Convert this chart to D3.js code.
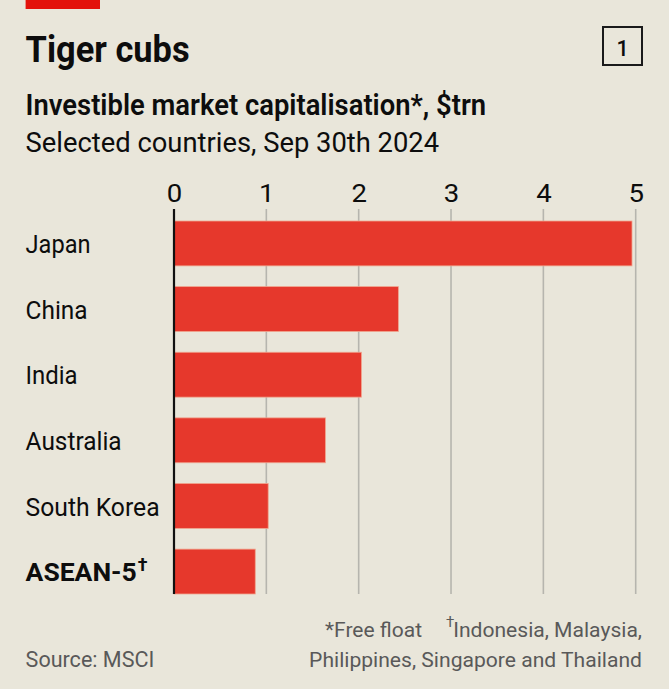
<!DOCTYPE html>
<html>
<head>
<meta charset="utf-8">
<script src="https://cdn.jsdelivr.net/npm/d3@7"></script>
<style>
  html, body { margin: 0; padding: 0; background: #e9e6da; }
  svg { display: block; }
  text { font-family: Roboto, "Liberation Sans", sans-serif; }
</style>
</head>
<body>
<svg id="chart" width="669" height="689"></svg>
<script>
// ---- Data ----
const categories = ["Japan", "China", "India", "Australia", "South Korea", "ASEAN-5"];
const values = [4.96, 2.43, 2.03, 1.64, 1.02, 0.88];
const tickValues = [0, 1, 2, 3, 4, 5];
const title = "Tiger cubs";
const subtitle = "Investible market capitalisation*, $trn";
const subtitle2 = "Selected countries, Sep 30th 2024";
const source = "Source: MSCI";
const note1 = "*Free float";
const note2 = "Indonesia, Malaysia,";
const note3 = "Philippines, Singapore and Thailand";
const chartNumber = "1";

// ---- Layout ----
const W = 669, H = 689;
const svg = d3.select("#chart");
svg.append("rect").attr("width", W).attr("height", H).attr("fill", "#e9e6da");

function fit(sel, w) {
  const n = sel.node();
  const cur = n.getComputedTextLength();
  if (Math.abs(cur - w) > 0.5) {
    sel.attr("textLength", w).attr("lengthAdjust", "spacingAndGlyphs");
  }
  return sel;
}
function fitSize(sel, w) {
  const fs = +sel.attr("font-size");
  const cur = sel.node().getComputedTextLength();
  if (cur > w) sel.attr("font-size", fs * w / cur);
  return sel;
}

// red tag
svg.append("rect").attr("x", 25.6).attr("y", 0).attr("width", 74.4).attr("height", 9).attr("fill", "#e3120b");

// title
fit(svg.append("text").attr("x", 25.6).attr("y", 62).attr("font-size", 36.5).attr("font-weight", 700)
  .attr("fill", "#0d0d0d").text(title), 164);

// number box
svg.append("rect").attr("x", 603).attr("y", 27).attr("width", 39).attr("height", 38)
  .attr("fill", "none").attr("stroke", "#1a1a1a").attr("stroke-width", 2);
svg.append("text").attr("x", 622.5).attr("y", 56).attr("text-anchor", "middle")
  .attr("font-size", 21.5).attr("font-weight", 500).attr("fill", "#0d0d0d").text(chartNumber);

// subtitles
fit(svg.append("text").attr("x", 25.6).attr("y", 114.5).attr("font-size", 29).attr("font-weight", 600)
  .attr("fill", "#0d0d0d").text(subtitle), 460.5);
fit(svg.append("text").attr("x", 25.6).attr("y", 151.7).attr("font-size", 28).attr("font-weight", 400)
  .attr("fill", "#0d0d0d").text(subtitle2), 413.5);

// scales
const x = d3.scaleLinear().domain([0, 5]).range([174, 635.7]);
const y = d3.scaleBand().domain(categories).range([221, 594]).paddingInner(0.316).paddingOuter(0);

const gridTop = 209, gridBottom = 594;

// gridlines
svg.append("g").selectAll("line").data(tickValues.filter(d => d > 0)).join("line")
  .attr("x1", d => x(d)).attr("x2", d => x(d))
  .attr("y1", gridTop).attr("y2", gridBottom)
  .attr("stroke", "#b6b5ae").attr("stroke-width", 1.6);

// tick labels via axis
const axis = d3.axisTop(x).tickValues(tickValues).tickSize(0).tickPadding(0).tickFormat(d3.format("d"));
const ag = svg.append("g").attr("transform", `translate(0,202)`).call(axis);
ag.select(".domain").remove();
ag.selectAll("text").attr("font-size", 26.5).attr("fill", "#0d0d0d")
  .attr("font-family", "Roboto, sans-serif").attr("dy", 0).attr("y", 0)
  .each(function() { fit(d3.select(this), 15.5); });

// bars
svg.append("g").selectAll("rect").data(values).join("rect")
  .attr("x", x(0)).attr("y", (d, i) => y(categories[i]))
  .attr("width", d => x(d) - x(0)).attr("height", y.bandwidth())
  .attr("fill", "#e6382c").attr("stroke", "#f0a58e").attr("stroke-width", 0.8);

// zero axis
svg.append("line").attr("x1", x(0)).attr("x2", x(0)).attr("y1", gridTop).attr("y2", gridBottom)
  .attr("stroke", "#111").attr("stroke-width", 2.2);

// category labels
const labelWidths = {"Japan": 65, "China": 62, "India": 52, "Australia": 96, "South Korea": 134, "ASEAN-5": 121};
categories.forEach((c, i) => {
  const cy = y(c) + y.bandwidth() / 2;
  const bold = c === "ASEAN-5";
  const t = svg.append("text").attr("x", 25.6).attr("y", cy + 9.7)
    .attr("font-size", 26.5).attr("font-weight", bold ? 700 : 400).attr("fill", "#0d0d0d");
  if (bold) {
    t.append("tspan").text(c);
    t.append("tspan").attr("font-size", 18).attr("dy", -10.5).attr("dx", 1).text("\u2020");
  } else {
    t.text(c);
  }
  fit(t, labelWidths[c]);
});

// footnotes
const grey = "#595959";
const fnSize = 23.5;
fitSize(svg.append("text").attr("x", 422).attr("y", 637).attr("text-anchor", "end")
  .attr("font-size", fnSize).attr("fill", grey).text(note1), 97);
svg.append("text").attr("x", 446).attr("y", 627).attr("font-size", 15).attr("fill", grey).text("\u2020");
fitSize(svg.append("text").attr("x", 642).attr("y", 637).attr("text-anchor", "end")
  .attr("font-size", fnSize).attr("fill", grey).text(note2), 189);
fitSize(svg.append("text").attr("x", 642).attr("y", 667).attr("text-anchor", "end")
  .attr("font-size", fnSize).attr("fill", grey).text(note3), 333);
fitSize(svg.append("text").attr("x", 25.6).attr("y", 667).attr("font-size", fnSize).attr("fill", grey).text(source), 128.8);
</script>
</body>
</html>
